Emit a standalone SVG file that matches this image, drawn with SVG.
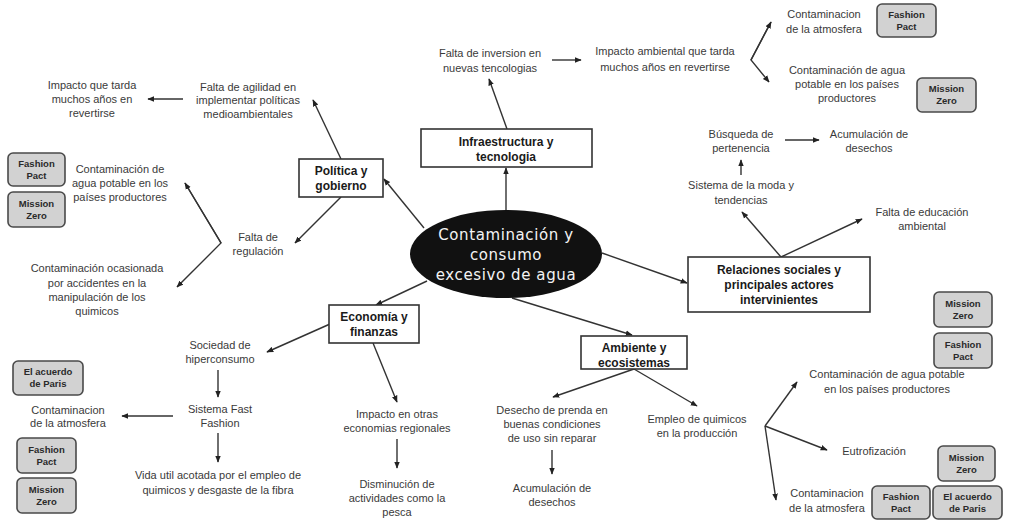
<svg xmlns="http://www.w3.org/2000/svg" width="1009" height="520" viewBox="0 0 1009 520">
<style>
.t{font-family:"Liberation Sans",Arial,sans-serif;font-size:11px;fill:#3a3a3a;text-anchor:middle}
.b{font-family:"Liberation Sans",Arial,sans-serif;font-size:12px;font-weight:bold;fill:#1a1a1a;text-anchor:middle}
.g{font-family:"Liberation Sans",Arial,sans-serif;font-size:9.5px;font-weight:bold;fill:#2a2a2a;text-anchor:middle}
.c{font-family:"DejaVu Sans",sans-serif;font-size:15px;fill:#f4f4f4;text-anchor:middle;letter-spacing:0.6px}
.box{fill:#ffffff;stroke:#333;stroke-width:1.6}
.badge{fill:#d2d2d2;stroke:#4a4a4a;stroke-width:1.6}
.ln{fill:none;stroke:#333;stroke-width:1.4}
</style>
<defs>
<marker id="ah" viewBox="0 0 10 10" refX="9" refY="5" markerWidth="7" markerHeight="7" markerUnits="userSpaceOnUse" orient="auto">
<path d="M0,1 L10,5 L0,9 z" fill="#222"/>
</marker>
</defs>
<rect width="1009" height="520" fill="#ffffff"/>

<g id="connectors">
<line class="ln" x1="506" y1="210" x2="506" y2="168" marker-end="url(#ah)"/>
<line class="ln" x1="507" y1="129" x2="489" y2="79" marker-end="url(#ah)"/>
<line class="ln" x1="552" y1="60" x2="581" y2="60" marker-end="url(#ah)"/>
<polyline class="ln" points="771,22 751,60 769,82" marker-end="url(#ah)"/>
<line class="ln" x1="751" y1="60" x2="771" y2="22" marker-end="url(#ah)"/>
<line class="ln" x1="785" y1="140" x2="819" y2="140" marker-end="url(#ah)"/>
<line class="ln" x1="741" y1="175" x2="741" y2="160" marker-end="url(#ah)"/>
<line class="ln" x1="781" y1="257" x2="742" y2="212" marker-end="url(#ah)"/>
<line class="ln" x1="781" y1="257" x2="862" y2="219" marker-end="url(#ah)"/>
<line class="ln" x1="602" y1="253" x2="687" y2="283" marker-end="url(#ah)"/>
<line class="ln" x1="512" y1="298" x2="632" y2="335" marker-end="url(#ah)"/>
<line class="ln" x1="634" y1="369" x2="553" y2="397" marker-end="url(#ah)"/>
<line class="ln" x1="634" y1="369" x2="697" y2="406" marker-end="url(#ah)"/>
<line class="ln" x1="552" y1="450" x2="552" y2="474" marker-end="url(#ah)"/>
<line class="ln" x1="765" y1="426" x2="797" y2="382" marker-end="url(#ah)"/>
<line class="ln" x1="765" y1="426" x2="827" y2="450" marker-end="url(#ah)"/>
<line class="ln" x1="765" y1="426" x2="776" y2="500" marker-end="url(#ah)"/>
<line class="ln" x1="424" y1="228" x2="384" y2="179" marker-end="url(#ah)"/>
<line class="ln" x1="341" y1="159" x2="313" y2="100" marker-end="url(#ah)"/>
<line class="ln" x1="183" y1="99" x2="148" y2="99" marker-end="url(#ah)"/>
<line class="ln" x1="341" y1="197" x2="295" y2="243" marker-end="url(#ah)"/>
<polyline class="ln" points="185,183 221,243 177,287" marker-end="url(#ah)"/>
<line class="ln" x1="221" y1="243" x2="185" y2="183" marker-end="url(#ah)"/>
<line class="ln" x1="427" y1="281" x2="376" y2="305" marker-end="url(#ah)"/>
<line class="ln" x1="330" y1="324" x2="267" y2="352" marker-end="url(#ah)"/>
<line class="ln" x1="373" y1="343" x2="397" y2="402" marker-end="url(#ah)"/>
<line class="ln" x1="218" y1="370" x2="218" y2="397" marker-end="url(#ah)"/>
<line class="ln" x1="173" y1="416" x2="122" y2="416" marker-end="url(#ah)"/>
<line class="ln" x1="218" y1="433" x2="218" y2="462" marker-end="url(#ah)"/>
<line class="ln" x1="397" y1="439" x2="397" y2="468" marker-end="url(#ah)"/>
</g>

<g id="center">
<ellipse cx="506" cy="254" rx="96" ry="44" fill="#111"/>
<text class="c"><tspan x="506" y="240">Contaminación y</tspan><tspan x="506" y="260">consumo</tspan><tspan x="506" y="280">excesivo de agua</tspan></text>
</g>

<g id="infraestructura">
<rect class="box" x="421" y="129" width="171" height="38"/>
<text class="b"><tspan x="506" y="146">Infraestructura y</tspan><tspan x="506" y="161">tecnologia</tspan></text>
</g>
<g id="falta-inversion"><text class="t"><tspan x="490" y="57">Falta de inversion en</tspan><tspan x="490" y="72">nuevas tencologias</tspan></text></g>
<g id="impacto-ambiental"><text class="t"><tspan x="665" y="55">Impacto ambiental que tarda</tspan><tspan x="665" y="71">muchos años en revertirse</tspan></text></g>
<g id="contam-atm-top"><text class="t"><tspan x="824" y="18">Contaminacion</tspan><tspan x="824" y="33">de la atmosfera</tspan></text></g>
<g id="badge-fp-top"><rect class="badge" x="877" y="4" width="59" height="33" rx="5"/><text class="g"><tspan x="906.5" y="18">Fashion</tspan><tspan x="906.5" y="30">Pact</tspan></text></g>
<g id="contam-agua-top"><text class="t"><tspan x="847" y="74">Contaminación de agua</tspan><tspan x="847" y="88">potable en los países</tspan><tspan x="847" y="102">productores</tspan></text></g>
<g id="badge-mz-top"><rect class="badge" x="917" y="78" width="59" height="34" rx="5"/><text class="g"><tspan x="946.5" y="92">Mission</tspan><tspan x="946.5" y="104">Zero</tspan></text></g>

<g id="busqueda"><text class="t"><tspan x="741" y="138">Búsqueda de</tspan><tspan x="741" y="152">pertenencia</tspan></text></g>
<g id="acumulacion-top"><text class="t"><tspan x="869" y="138">Acumulación de</tspan><tspan x="869" y="152">desechos</tspan></text></g>
<g id="sistema-moda"><text class="t"><tspan x="741" y="189">Sistema de la moda y</tspan><tspan x="741" y="204">tendencias</tspan></text></g>
<g id="falta-educacion"><text class="t"><tspan x="922" y="216">Falta de educación</tspan><tspan x="922" y="230">ambiental</tspan></text></g>
<g id="relaciones">
<rect class="box" x="688" y="257" width="182" height="55"/>
<text class="b"><tspan x="779" y="274">Relaciones sociales y</tspan><tspan x="779" y="289">principales actores</tspan><tspan x="779" y="304">intervinientes</tspan></text>
</g>
<g id="badge-mz-right"><rect class="badge" x="934" y="292" width="58" height="35" rx="5"/><text class="g"><tspan x="963" y="307">Mission</tspan><tspan x="963" y="319">Zero</tspan></text></g>
<g id="badge-fp-right"><rect class="badge" x="934" y="333" width="58" height="35" rx="5"/><text class="g"><tspan x="963" y="348">Fashion</tspan><tspan x="963" y="360">Pact</tspan></text></g>

<g id="ambiente">
<rect class="box" x="581" y="336" width="106" height="33"/>
<text class="b"><tspan x="634" y="352">Ambiente y</tspan><tspan x="634" y="367">ecosistemas</tspan></text>
</g>
<g id="desecho-prenda"><text class="t"><tspan x="552" y="414">Desecho de prenda en</tspan><tspan x="552" y="428">buenas condiciones</tspan><tspan x="552" y="442">de uso sin reparar</tspan></text></g>
<g id="acumulacion-bottom"><text class="t"><tspan x="552" y="492">Acumulación de</tspan><tspan x="552" y="506">desechos</tspan></text></g>
<g id="empleo-quimicos"><text class="t"><tspan x="697" y="423">Empleo de quimicos</tspan><tspan x="697" y="437">en la producción</tspan></text></g>
<g id="contam-agua-right"><text class="t"><tspan x="887" y="378">Contaminación de agua potable</tspan><tspan x="887" y="393">en los países productores</tspan></text></g>
<g id="eutrofizacion"><text class="t"><tspan x="874" y="455">Eutrofización</tspan></text></g>
<g id="badge-mz-br"><rect class="badge" x="938" y="446" width="57" height="35" rx="5"/><text class="g"><tspan x="966.5" y="461">Mission</tspan><tspan x="966.5" y="473">Zero</tspan></text></g>
<g id="contam-atm-br"><text class="t"><tspan x="827" y="497">Contaminacion</tspan><tspan x="827" y="512">de la atmosfera</tspan></text></g>
<g id="badge-fp-br"><rect class="badge" x="872" y="486" width="58" height="33" rx="5"/><text class="g"><tspan x="901" y="500">Fashion</tspan><tspan x="901" y="512">Pact</tspan></text></g>
<g id="badge-paris-br"><rect class="badge" x="933" y="486" width="69" height="33" rx="5"/><text class="g"><tspan x="967.5" y="500">El acuerdo</tspan><tspan x="967.5" y="512">de Paris</tspan></text></g>

<g id="politica">
<rect class="box" x="299" y="159" width="84" height="38"/>
<text class="b"><tspan x="341" y="175">Política y</tspan><tspan x="341" y="190">gobierno</tspan></text>
</g>
<g id="falta-agilidad"><text class="t"><tspan x="248" y="91">Falta de agilidad en</tspan><tspan x="248" y="104">implementar políticas</tspan><tspan x="248" y="118">medioambientales</tspan></text></g>
<g id="impacto-tarda"><text class="t"><tspan x="92" y="89">Impacto que tarda</tspan><tspan x="92" y="103">muchos años en</tspan><tspan x="92" y="117">revertirse</tspan></text></g>
<g id="badge-fp-left"><rect class="badge" x="8" y="153" width="57" height="33" rx="5"/><text class="g"><tspan x="36.5" y="167">Fashion</tspan><tspan x="36.5" y="179">Pact</tspan></text></g>
<g id="badge-mz-left"><rect class="badge" x="8" y="192" width="57" height="35" rx="5"/><text class="g"><tspan x="36.5" y="207">Mission</tspan><tspan x="36.5" y="219">Zero</tspan></text></g>
<g id="contam-agua-left"><text class="t"><tspan x="120" y="173">Contaminación de</tspan><tspan x="120" y="187">agua potable en los</tspan><tspan x="120" y="201">países productores</tspan></text></g>
<g id="falta-regulacion"><text class="t"><tspan x="258" y="241">Falta de</tspan><tspan x="258" y="255">regulación</tspan></text></g>
<g id="contam-accidentes"><text class="t"><tspan x="97" y="272">Contaminación ocasionada</tspan><tspan x="97" y="287">por accidentes en la</tspan><tspan x="97" y="301">manipulación  de los</tspan><tspan x="97" y="315">quimicos</tspan></text></g>

<g id="economia">
<rect class="box" x="329" y="305" width="90" height="38"/>
<text class="b"><tspan x="374" y="321">Economía y</tspan><tspan x="374" y="336">finanzas</tspan></text>
</g>
<g id="sociedad"><text class="t"><tspan x="220" y="349">Sociedad de</tspan><tspan x="220" y="363">hiperconsumo</tspan></text></g>
<g id="fast-fashion"><text class="t"><tspan x="220" y="413">Sistema Fast</tspan><tspan x="220" y="427">Fashion</tspan></text></g>
<g id="badge-paris-left"><rect class="badge" x="13" y="361" width="70" height="34" rx="5"/><text class="g"><tspan x="48" y="375">El acuerdo</tspan><tspan x="48" y="387">de Paris</tspan></text></g>
<g id="contam-atm-left"><text class="t"><tspan x="68" y="414">Contaminacion</tspan><tspan x="68" y="427">de la atmosfera</tspan></text></g>
<g id="badge-fp-bl"><rect class="badge" x="17" y="438" width="59" height="35" rx="5"/><text class="g"><tspan x="46.5" y="453">Fashion</tspan><tspan x="46.5" y="465">Pact</tspan></text></g>
<g id="badge-mz-bl"><rect class="badge" x="17" y="478" width="59" height="35" rx="5"/><text class="g"><tspan x="46.5" y="493">Mission</tspan><tspan x="46.5" y="505">Zero</tspan></text></g>
<g id="vida-util"><text class="t"><tspan x="218" y="479">Vida util acotada por el empleo de</tspan><tspan x="218" y="494">quimicos y desgaste de la fibra</tspan></text></g>
<g id="impacto-economias"><text class="t"><tspan x="397" y="418">Impacto en otras</tspan><tspan x="397" y="432">economias regionales</tspan></text></g>
<g id="disminucion"><text class="t"><tspan x="397" y="488">Disminución de</tspan><tspan x="397" y="502">actividades como la</tspan><tspan x="397" y="516">pesca</tspan></text></g>
</svg>
